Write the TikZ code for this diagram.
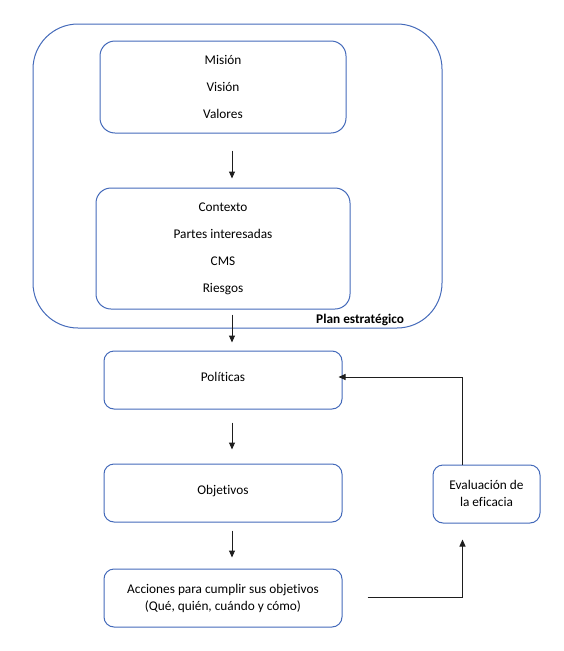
\documentclass[tikz,border=0pt]{standalone}
\usepackage{fontspec}
\setmainfont[Ligatures={NoCommon}]{Carlito}
\usetikzlibrary{arrows.meta}
\definecolor{boxblue}{RGB}{68,106,186}
\definecolor{arrgray}{RGB}{30,30,30}
\begin{document}
\begin{tikzpicture}[x=1pt,y=-1pt,
  box/.style={draw=boxblue, line width=1pt, rounded corners=10pt, align=center, inner sep=0pt},
  arr/.style={draw=arrgray, line width=1pt, -{Triangle[length=7pt,width=6pt]}},
  font=\fontsize{13.3}{18}\selectfont]
\useasboundingbox (0,0) rectangle (564,651);
\node[box, rounded corners=45pt, minimum width=409pt, minimum height=304pt] (outer) at (237.5,176) {};
\node[box, rounded corners=15pt, minimum width=246pt, minimum height=92pt, font=\fontsize{13.3}{27}\selectfont] (mvv) at (223,87) {Misión\\Visión\\Valores};
\node[box, rounded corners=15pt, minimum width=254pt, minimum height=121pt, font=\fontsize{13.3}{27}\selectfont] (ctx) at (223,248.5) {Contexto\\Partes interesadas\\CMS\\Riesgos};
\node[anchor=west, inner sep=0pt, font=\fontsize{13.3}{16}\selectfont\bfseries] (plan) at (316,320) {Plan estratégico};
\node[box, minimum width=238pt, minimum height=58pt] (pol) at (223,380) {\raisebox{7pt}{Políticas}};
\node[box, minimum width=238pt, minimum height=58pt] (obj) at (223,493) {\raisebox{6pt}{Objetivos}};
\node[box, minimum width=238pt, minimum height=58pt] (acc) at (223,598) {\raisebox{6.5pt}{\begin{tabular}{@{}c@{}}Acciones para cumplir sus objetivos\\[-1pt](Qué, quién, cuándo y cómo)\end{tabular}}};
\node[box, minimum width=107pt, minimum height=58pt] (eva) at (486.5,494) {\raisebox{4pt}{\begin{tabular}{@{}c@{}}Evaluación de\\[-1pt]la eficacia\end{tabular}}};
\draw[arr] ([xshift=9pt,yshift=-17pt]mvv.south) -- ([xshift=9pt,yshift=9pt]ctx.north);
\draw[arr] ([xshift=9pt,yshift=-5pt]ctx.south) -- ([xshift=9pt,yshift=8pt]pol.north);
\draw[arr] ([xshift=9pt,yshift=-13pt]pol.south) -- ([xshift=9pt,yshift=14pt]obj.north);
\draw[arr] ([xshift=9pt,yshift=-8pt]obj.south) -- ([xshift=9pt,yshift=11pt]acc.north);
\draw[arr] ([xshift=-24pt]eva.north) |- ([xshift=-4pt,yshift=3pt]pol.east);
\draw[arr] ([xshift=25pt,yshift=1pt]acc.east) -| ([xshift=-24pt,yshift=-16pt]eva.south);
\end{tikzpicture}
\end{document}
